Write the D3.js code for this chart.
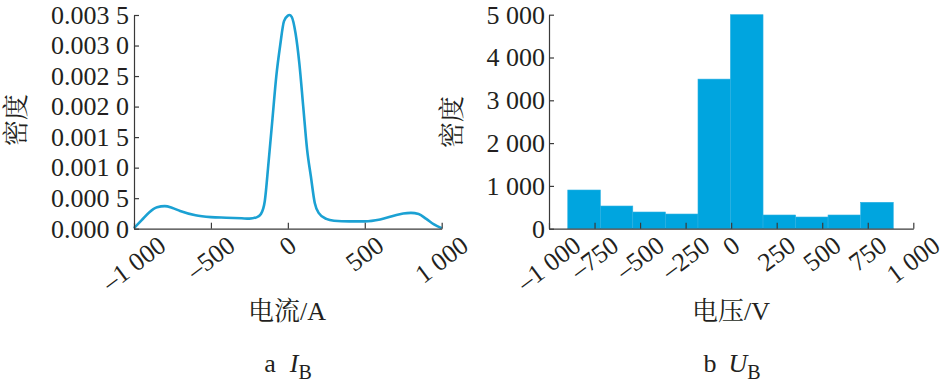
<!DOCTYPE html>
<html>
<head>
<meta charset="utf-8">
<script src="https://cdn.jsdelivr.net/npm/d3@7"></script>
<style>
  body { margin: 0; background: #fff; }
  svg text { font-family: "Liberation Serif", "Noto Serif CJK SC", "Noto Sans CJK SC", serif; fill: #231f20; }
</style>
</head>
<body>
<svg id="chart"></svg>
<script>
// left panel: density of I_B (kernel density curve)
const kdeX = [-1000, -950, -900, -850, -800, -750, -700, -600, -500, -400, -300, -250, -200, -175, -150, -125, -100, -75, -50, -25, 0, 10, 25, 50, 75, 100, 125, 150, 175, 200, 250, 300, 400, 500, 600, 700, 750, 800, 850, 900, 950, 1000];
const kdeY = [0.00001, 0.00014, 0.00027, 0.00035, 0.00037, 0.00034, 0.00029, 0.00022, 0.00019, 0.00018, 0.00017, 0.000165, 0.00019, 0.00024, 0.00045, 0.0011, 0.0018, 0.0025, 0.0030, 0.0034, 0.00349, 0.0035, 0.00347, 0.0032, 0.0027, 0.0020, 0.0013, 0.00085, 0.00042, 0.00026, 0.00016, 0.00013, 0.00012, 0.00012, 0.00015, 0.00022, 0.00025, 0.00026, 0.00024, 0.00016, 0.00007, 0.00001];
const leftXTicks = [-1000, -500, 0, 500, 1000];
const leftYTicks = [0, 0.0005, 0.001, 0.0015, 0.002, 0.0025, 0.003, 0.0035];

// right panel: histogram of U_B
const binEdges = [-897, -718, -540, -361, -182, -4, 175, 354, 532, 711, 890];
const binCounts = [904, 530, 390, 343, 3495, 5000, 320, 273, 320, 617];
const rightXTicks = [-1000, -750, -500, -250, 0, 250, 500, 750, 1000];
const rightYTicks = [0, 1000, 2000, 3000, 4000, 5000];

const W = 945, H = 390;
const fontSize = 26;
const axisColor = "#3a3a3a";
const angle = 37;

const svg = d3.select("#chart").attr("width", W).attr("height", H);

const spaced = d3.formatLocale({ decimal: ".", thousands: " ", grouping: [3], currency: ["", ""], minus: "\u2013" }).format(",d");
const fmtSmall = v => { const s = v.toFixed(4); return s.slice(0, -1) + " " + s.slice(-1); };

function xLabels(g, scale, ticks, fmt, top) {
  const rad = angle * Math.PI / 180;
  g.selectAll("text.xl")
    .data(ticks)
    .join("text")
    .attr("class", "xl")
    .attr("font-size", fontSize)
    .attr("text-anchor", "middle")
    .attr("dy", "0.33em")
    .text(fmt)
    .attr("transform", function(d) {
      const w = this.getComputedTextLength();
      const h = fontSize * 0.68;
      const bh = w * Math.sin(rad) + h * Math.cos(rad);
      return `translate(${scale(d)},${top + bh / 2}) rotate(${-angle})`;
    });
}

function styleAxis(g) {
  g.selectAll("path.domain").attr("stroke", axisColor).attr("stroke-width", 1.2);
  g.selectAll(".tick line").attr("stroke", axisColor).attr("stroke-width", 1.2);
  g.selectAll(".tick text").attr("font-size", fontSize).attr("fill", "#231f20")
    .attr("font-family", "Liberation Serif, serif");
}

// ---------- left panel ----------
const lx = d3.scaleLinear().domain([-1000, 1000]).range([134, 441.7]);
const ly = d3.scaleLinear().domain([0, 0.0035]).range([228.7, 15]);
const left = svg.append("g");

left.append("path")
  .datum(d3.zip(kdeX, kdeY))
  .attr("fill", "none")
  .attr("stroke", "#1ba1d3")
  .attr("stroke-width", 2.6)
  .attr("d", d3.line().x(d => lx(d[0])).y(d => ly(d[1])).curve(d3.curveMonotoneX));

const lyAxis = left.append("g")
  .attr("transform", `translate(${lx.range()[0]},0)`)
  .call(d3.axisLeft(ly).tickValues(leftYTicks).tickFormat(fmtSmall).tickSizeInner(-5).tickSizeOuter(0).tickPadding(5));
styleAxis(lyAxis);

const lxAxis = left.append("g")
  .attr("transform", `translate(0,${ly.range()[0]})`)
  .call(d3.axisBottom(lx).tickValues(leftXTicks).tickFormat("").tickSizeInner(-6).tickSizeOuter(0));
styleAxis(lxAxis);
xLabels(left, lx, leftXTicks, spaced, 235);

left.append("text")
  .attr("transform", "translate(16,120) rotate(-90)")
  .attr("text-anchor", "middle").attr("dy", "0.35em")
  .attr("font-size", fontSize).text("密度");

left.append("text")
  .attr("x", 287).attr("y", 320)
  .attr("text-anchor", "middle")
  .attr("font-size", fontSize).text("电流/A");

const capA = left.append("text").attr("x", 288).attr("y", 372).attr("text-anchor", "middle").attr("font-size", fontSize);
capA.append("tspan").text("a");
capA.append("tspan").attr("dx", 14).attr("font-style", "italic").text("I");
capA.append("tspan").attr("dy", 7).attr("font-size", 20).text("B");

// ---------- right panel ----------
const rx = d3.scaleLinear().domain([-1000, 1000]).range([549, 913.3]);
const ry = d3.scaleLinear().domain([0, 5000]).range([228.7, 14.7]);
const right = svg.append("g");

right.selectAll("rect.bar")
  .data(binCounts)
  .join("rect")
  .attr("class", "bar")
  .attr("x", (d, i) => rx(binEdges[i]))
  .attr("width", (d, i) => rx(binEdges[i + 1]) - rx(binEdges[i]))
  .attr("y", d => ry(d))
  .attr("height", d => ry(0) - ry(d))
  .attr("fill", "#00a5df")
  .attr("stroke", "#2bb0e2")
  .attr("stroke-width", 0.6);

const ryAxis = right.append("g")
  .attr("transform", `translate(${rx.range()[0]},0)`)
  .call(d3.axisLeft(ry).tickValues(rightYTicks).tickFormat(spaced).tickSizeInner(-5).tickSizeOuter(0).tickPadding(4));
styleAxis(ryAxis);

const rxAxis = right.append("g")
  .attr("transform", `translate(0,${ry.range()[0]})`)
  .call(d3.axisBottom(rx).tickValues(rightXTicks).tickFormat("").tickSizeInner(-6).tickSizeOuter(0));
styleAxis(rxAxis);
xLabels(right, rx, rightXTicks, spaced, 235);

right.append("text")
  .attr("transform", "translate(452,122) rotate(-90)")
  .attr("text-anchor", "middle").attr("dy", "0.35em")
  .attr("font-size", fontSize).text("密度");

right.append("text")
  .attr("x", 731).attr("y", 320)
  .attr("text-anchor", "middle")
  .attr("font-size", fontSize).text("电压/V");

const capB = right.append("text").attr("x", 732).attr("y", 372).attr("text-anchor", "middle").attr("font-size", fontSize);
capB.append("tspan").text("b");
capB.append("tspan").attr("dx", 12).attr("font-style", "italic").text("U");
capB.append("tspan").attr("dy", 7).attr("font-size", 20).text("B");
</script>
</body>
</html>
